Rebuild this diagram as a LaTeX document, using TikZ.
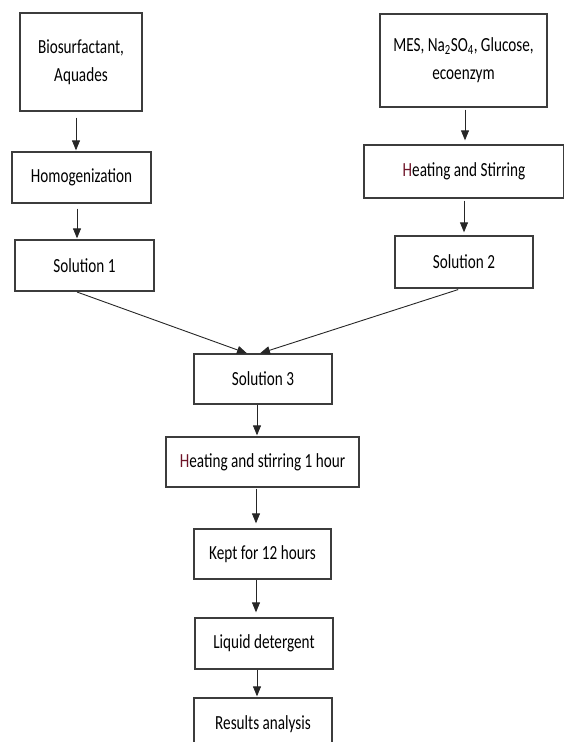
\documentclass[tikz,border=0pt]{standalone}
\usepackage{fontspec}
\setmainfont{Carlito}[FakeStretch=0.76]
\usetikzlibrary{arrows.meta}
\definecolor{boxline}{RGB}{60,60,60}
\definecolor{hred}{RGB}{110,20,40}
\begin{document}
\begin{tikzpicture}[x=1pt,y=-1pt,
	box/.style={draw=boxline,line width=1.3pt,inner sep=0pt,align=center,font=\fontsize{20}{28}\selectfont},
	flow/.style={draw=black!85,line width=0.9pt,-{Triangle[length=10pt,width=8pt]}}]
	\clip (0,0) rectangle (564,742);
	\useasboundingbox (0,0) rectangle (564,742);
	% left branch
	\node[box,minimum width=122pt,minimum height=98pt] (bio) at (81,62) {Biosurfactant,\\Aquades};
	\node[box,minimum width=139pt,minimum height=51pt] (homog) at (81.5,177.5) {Homogenization};
	\node[box,minimum width=139pt,minimum height=51pt] (sol1) at (84.5,265.5) {Solution 1};
	% right branch
	\node[box,minimum width=167pt,minimum height=93pt] (mes) at (463.5,60.5) {MES, Na\textsubscript{2}SO\textsubscript{4}, Glucose,\\ecoenzym};
	\node[box,minimum width=200pt,minimum height=53pt] (heat) at (464,171.5) {{\color{hred}H}eating and Stirring};
	\node[box,minimum width=138pt,minimum height=52pt] (sol2) at (464,262) {Solution 2};
	% main line
	\node[box,minimum width=138pt,minimum height=50pt] (sol3) at (263,379) {Solution 3};
	\node[box,minimum width=193pt,minimum height=50pt] (heatone) at (262.5,462) {{\color{hred}H}eating and stirring 1 hour};
	\node[box,minimum width=137pt,minimum height=50pt] (kept) at (262.5,554) {Kept for 12 hours};
	\node[box,minimum width=138pt,minimum height=51pt] (liquid) at (264,643.5) {Liquid detergent};
	\node[box,minimum width=138pt,minimum height=52pt] (results) at (263,724) {Results analysis};

	\draw[flow,shorten <=6pt,shorten >=1pt] ([xshift=-5pt]bio.south) -- ([xshift=-5.5pt]homog.north);
	\draw[flow,shorten <=5pt,shorten >=1pt] ([xshift=-4.5pt]homog.south) -- ([xshift=-7.5pt]sol1.north);
	\draw[flow,shorten <=2pt,shorten >=4pt] ([xshift=1.5pt]mes.south) -- ([xshift=1pt]heat.north);
	\draw[flow,shorten <=2pt,shorten >=3pt] (heat.south) -- (sol2.north);
	\draw[flow,shorten <=1pt] ([xshift=-8.5pt]sol1.south) -- ([xshift=-16pt]sol3.north);
	\draw[flow,shorten <=3pt] ([xshift=-3pt]sol2.south) -- ([xshift=-3pt]sol3.north);
	\draw[flow,shorten >=1pt] ([xshift=-6pt]sol3.south) -- ([xshift=-5.5pt]heatone.north);
	\draw[flow,shorten <=1pt,shorten >=5pt] ([xshift=-6.5pt]heatone.south) -- ([xshift=-6.5pt]kept.north);
	\draw[flow,shorten >=5pt] ([xshift=-6.5pt]kept.south) -- ([xshift=-8pt]liquid.north);
	\draw[flow,shorten >=1pt] ([xshift=-7pt]liquid.south) -- ([xshift=-6pt]results.north);
\end{tikzpicture}
\end{document}
